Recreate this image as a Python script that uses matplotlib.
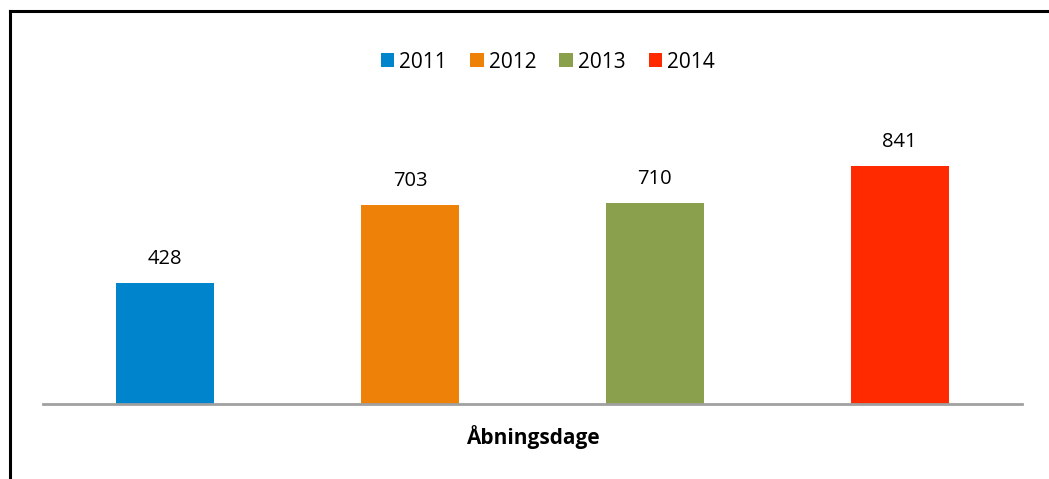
import matplotlib.pyplot as plt
from matplotlib.lines import Line2D

# data
years = ['2011', '2012', '2013', '2014']
values = [428, 703, 710, 841]
category = 'Åbningsdage'
colors = ['#0084CC', '#EE8107', '#8BA04C', '#FF2A00']

plt.rcParams['font.family'] = ['Open Sans', 'DejaVu Sans']

fig = plt.figure(figsize=(10.49, 4.79), dpi=100)
ax = fig.add_axes([43/1049, 75/479, 979/1049, 282.7/479])

for i, (yr, v, c) in enumerate(zip(years, values, colors)):
    ax.bar(i, v, width=0.4, color=c, label=yr)
    ax.annotate(str(v), (i, v), xytext=(0, 10), textcoords='offset points',
                ha='center', va='bottom', fontsize=14.5)

ax.set_xlim(-0.5, 3.5)
ax.set_ylim(0, 1000)
ax.set_yticks([])
ax.set_xticks([1.5], [category], fontsize=15, fontweight='bold')
ax.tick_params(axis='x', length=0, pad=15)
for s in ['top', 'right', 'left']:
    ax.spines[s].set_visible(False)
ax.spines['bottom'].set_color('#A0A0A0')
ax.spines['bottom'].set_linewidth(2)

fig.legend(loc='center', bbox_to_anchor=(548/1049, 1 - 62/479), ncol=4,
           frameon=False, fontsize=15, handlelength=0.65, handleheight=0.65,
           handletextpad=0.25, columnspacing=1.1)

# chart border (left and top edges visible)
fig.add_artist(Line2D([9.5/1049, 9.5/1049], [0, 1 - 11/479], color='black', lw=2.2,
                      transform=fig.transFigure))
fig.add_artist(Line2D([9.5/1049, 1], [1 - 11/479, 1 - 11/479], color='black', lw=2.2,
                      transform=fig.transFigure))

fig.savefig('out.png', dpi=100)
